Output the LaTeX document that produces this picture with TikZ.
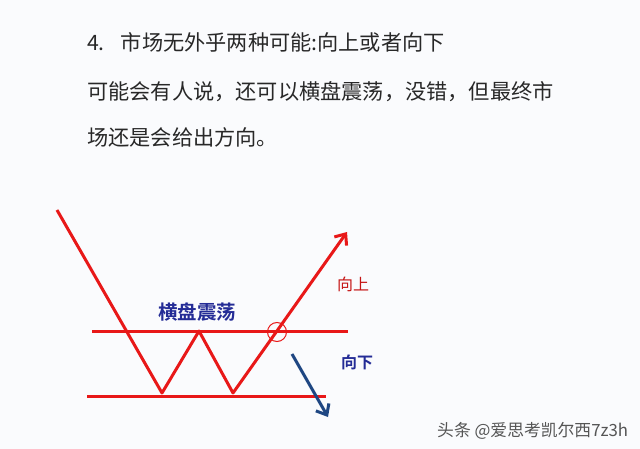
\documentclass[tikz,border=0pt]{standalone}
\usepackage{fontspec}
\usepackage{xcolor}
\usepackage{tikz}
\usetikzlibrary{arrows.meta}
\setmainfont{Noto Sans CJK SC}
\newfontfamily\cjkbold[BoldFont={Noto Sans CJK SC Bold}]{Noto Sans CJK SC}
\definecolor{bgcol}{RGB}{250,251,253}
\definecolor{textgray}{RGB}{40,40,40}
\definecolor{trendred}{RGB}{232,24,24}
\definecolor{labelblue}{RGB}{36,44,150}
\definecolor{downblue}{RGB}{30,70,130}
\definecolor{markgray}{RGB}{85,85,85}

\begin{document}
\begin{tikzpicture}[x=1pt,y=-1pt]
\tikzstyle{every node}+=[inner sep=0pt]
\tikzstyle{para}=[anchor=base west, text=textgray, font=\fontsize{21.2}{24}\selectfont]
\tikzstyle{trend}=[draw=trendred, line width=3pt, line join=round]
\tikzstyle{level}=[draw=trendred, line width=3pt]
\tikzstyle{tip}=[-{Straight Barb[length=9pt,width=15pt,line width=3pt]}]
\fill [bgcol] (0,0) rectangle (640,449);
\node [para] (line1) at (87,51) {4.\hspace{16pt}市场无外乎两种可能:向上或者向下};
\node [para] (line2) at (87,100) {可能会有人说，还可以横盘震荡，没错，但最终市};
\node [para] (line3) at (87,146) {场还是会给出方向。};
\coordinate (start) at (57,210);
\coordinate (low1) at (162,393);
\coordinate (peak) at (199,331);
\coordinate (low2) at (233,393);
\coordinate (up) at (347,232);
\coordinate (resL) at (92,331);
\coordinate (resR) at (348,331);
\coordinate (supL) at (87,396);
\coordinate (supR) at (326,396);
\coordinate (dnA) at (292,354);
\coordinate (dnB) at (328,417);
\draw [level] (resL) -- (resR);
\draw [level] (supL) -- (supR);
\draw [trend, tip] (start) -- (low1) -- (peak) -- (low2) -- (up);
\node [circle, draw=trendred, line width=1pt, minimum size=19pt] (brk) at (277,332) {};
\draw [downblue, line width=3pt, tip] (dnA) -- (dnB);
\node [text=labelblue, font=\cjkbold\bfseries\fontsize{19.5}{21}\selectfont] (range) at (197,312) {横盘震荡};
\node [text=trendred!85!black, font=\fontsize{16}{18}\selectfont] (uplbl) at (353,284) {向上};
\node [text=labelblue, font=\cjkbold\bfseries\fontsize{16}{18}\selectfont] (dnlbl) at (357,362) {向下};
\node [anchor=base west, text=markgray, font=\fontsize{16.8}{19}\selectfont] (mark) at (437,436) {头条 @爱思考凯尔西7z3h};
\end{tikzpicture}
\end{document}
